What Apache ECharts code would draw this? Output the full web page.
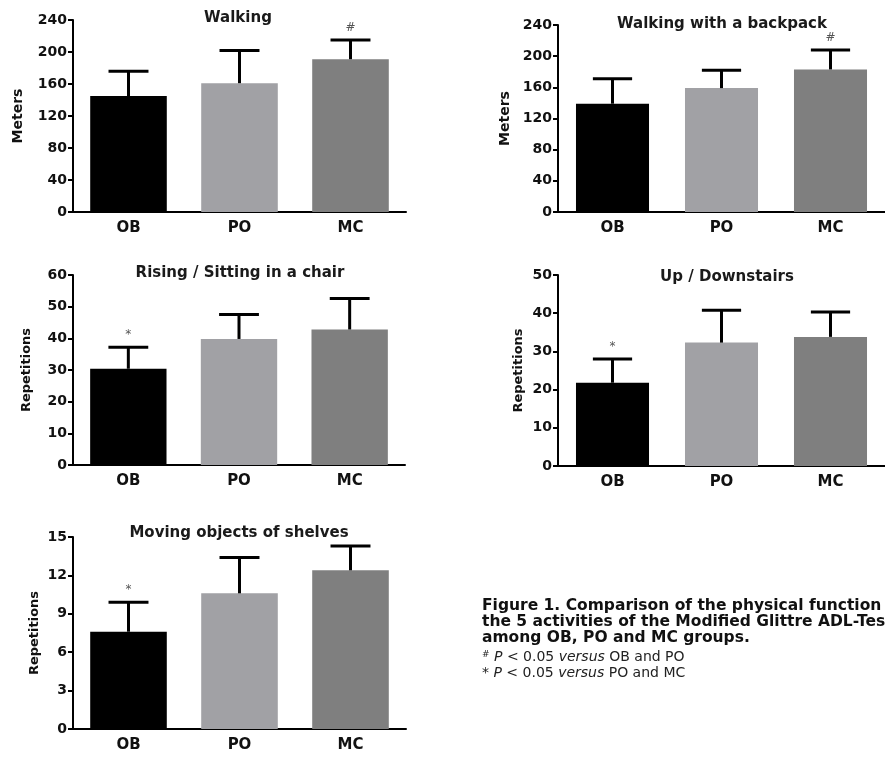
<!DOCTYPE html>
<html>
<head>
<meta charset="utf-8">
<title>Figure 1</title>
<script src="https://cdn.jsdelivr.net/npm/echarts@6/dist/echarts.min.js"></script>
<style>
html, body { margin: 0; padding: 0; background: #fff; }
#chart { width: 885px; height: 757px; }
</style>
</head>
<body>
<div id="chart"></div>
<script>
// groups and bar colours
var groups = ['OB', 'PO', 'MC'];
var barColors = ['#000000', '#a1a1a5', '#7f7f7f'];

// mean and SD (upper error bar only)
var walkingMean = [145, 161, 191];
var walkingSd = [31, 41, 24];
var walkingMark = ['', '', '#'];

var backpackMean = [139, 159, 183];
var backpackSd = [32, 23, 25];
var backpackMark = ['', '', '#'];

var risingMean = [30.4, 39.8, 42.8];
var risingSd = [6.8, 7.7, 9.8];
var risingMark = ['*', '', ''];

var stairsMean = [21.8, 32.3, 33.8];
var stairsSd = [6.2, 8.5, 6.5];
var stairsMark = ['*', '', ''];

var shelvesMean = [7.6, 10.6, 12.4];
var shelvesSd = [2.3, 2.8, 1.9];
var shelvesMark = ['*', '', ''];

// y axis ranges
var yMax = [240, 240, 60, 50, 15];
var yStep = [40, 40, 10, 10, 3];

var titles = ['Walking', 'Walking with a backpack', 'Rising / Sitting in a chair', 'Up / Downstairs', 'Moving objects of shelves'];
var yNames = ['Meters', 'Meters', 'Repetitions', 'Repetitions', 'Repetitions'];

var captionLines = [
    'Figure 1. Comparison of the physical function in',
    'the 5 activities of the Modified Glittre ADL-Test',
    'among OB, PO and MC groups.'
];
var footLines = [
    '{s|#} {i|P} < 0.05 {i|versus} OB and PO',
    '* {i|P} < 0.05 {i|versus} PO and MC'
];

var means = [walkingMean, backpackMean, risingMean, stairsMean, shelvesMean];
var sds = [walkingSd, backpackSd, risingSd, stairsSd, shelvesSd];
var marks = [walkingMark, backpackMark, risingMark, stairsMark, shelvesMark];

// panel layout
var layout = [
    {left: 73, top: 20, width: 333, height: 192, gap: 48, nameSize: 14, tx: 238, ty: 11, bw: '69%'},
    {left: 558, top: 25, width: 327, height: 187, gap: 46, nameSize: 14, tx: 722, ty: 17, bw: '67%'},
    {left: 73, top: 275, width: 332, height: 190, gap: 40, nameSize: 13, tx: 240, ty: 266, bw: '69%'},
    {left: 558, top: 275, width: 327, height: 191, gap: 33, nameSize: 13, tx: 727, ty: 270, bw: '67%'},
    {left: 73, top: 537, width: 333, height: 192, gap: 32, nameSize: 13, tx: 239, ty: 526, bw: '69%'}
];

var boldFont = 'DejaVu Sans';

function errorBar(markList) {
    return function (params, api) {
        var k = api.value(0);
        var base = api.coord([k, api.value(1)]);
        var top = api.coord([k, api.value(2)]);
        var half = api.size([1, 0])[0] * 0.18;
        var kids = [
            {type: 'line', shape: {x1: base[0], y1: base[1], x2: top[0], y2: top[1]}, style: {stroke: '#000', lineWidth: 3}},
            {type: 'line', shape: {x1: top[0] - half, y1: top[1], x2: top[0] + half, y2: top[1]}, style: {stroke: '#000', lineWidth: 3}}
        ];
        var m = markList[params.dataIndex];
        if (m) {
            kids.push({
                type: 'text', x: top[0], y: top[1] - 12,
                style: {text: m, align: 'center', verticalAlign: 'middle', fill: '#555', font: '12px "DejaVu Sans"'}
            });
        }
        return {type: 'group', children: kids};
    };
}

var grid = [], xAxis = [], yAxis = [], series = [], title = [];
for (var i = 0; i < 5; i++) {
    var L = layout[i];
    grid.push({left: L.left, top: L.top, width: L.width, height: L.height});
    title.push({
        text: titles[i], left: L.tx, top: L.ty, textAlign: 'center', padding: 0,
        textStyle: {fontFamily: boldFont, fontWeight: 'bold', fontSize: 15, color: '#1a1a1a'}
    });
    xAxis.push({
        type: 'category', gridIndex: i, data: groups,
        axisLine: {lineStyle: {color: '#000', width: 2}},
        axisTick: {alignWithLabel: true, length: 5, lineStyle: {color: '#000', width: 2}},
        axisLabel: {margin: 9, color: '#111', fontFamily: boldFont, fontWeight: 'bold', fontSize: 15}
    });
    yAxis.push({
        type: 'value', gridIndex: i, min: 0, max: yMax[i], interval: yStep[i],
        name: yNames[i], nameLocation: 'middle', nameGap: L.gap,
        nameTextStyle: {fontFamily: boldFont, fontWeight: 'bold', fontSize: L.nameSize, color: '#111'},
        splitLine: {show: false},
        axisLine: {show: true, lineStyle: {color: '#000', width: 2}},
        axisTick: {show: true, length: 5, lineStyle: {color: '#000', width: 2}},
        axisLabel: {margin: 6, color: '#111', fontFamily: boldFont, fontWeight: 'bold', fontSize: 14}
    });
    series.push({
        type: 'bar', xAxisIndex: i, yAxisIndex: i, barWidth: L.bw,
        data: means[i].map(function (v, k) { return {value: v, itemStyle: {color: barColors[k]}}; })
    });
    series.push({
        type: 'custom', xAxisIndex: i, yAxisIndex: i, z: 5,
        renderItem: errorBar(marks[i]),
        encode: {x: 0, y: [1, 2]},
        data: means[i].map(function (v, k) { return [k, v, +(v + sds[i][k]).toFixed(2)]; })
    });
}

var graphic = [];
captionLines.forEach(function (t, k) {
    graphic.push({
        type: 'text', left: 482, top: 598 + k * 16,
        style: {text: t, fill: '#111', font: 'bold 15.5px "DejaVu Sans"'}
    });
});
footLines.forEach(function (t, k) {
    graphic.push({
        type: 'text', left: 482, top: 650 + k * 16,
        style: {
            text: t, fill: '#222', font: '14px "DejaVu Sans"',
            rich: {
                i: {fontStyle: 'italic', fontSize: 14, fontFamily: 'DejaVu Sans', fill: '#222'},
                s: {fontSize: 9, fontFamily: 'DejaVu Sans', fill: '#222', verticalAlign: 'top'}
            }
        }
    });
});

var myChart = echarts.init(document.getElementById('chart'));
myChart.setOption({
    backgroundColor: '#fff',
    animation: false,
    title: title,
    grid: grid,
    xAxis: xAxis,
    yAxis: yAxis,
    series: series,
    graphic: graphic
});
</script>
</body>
</html>
